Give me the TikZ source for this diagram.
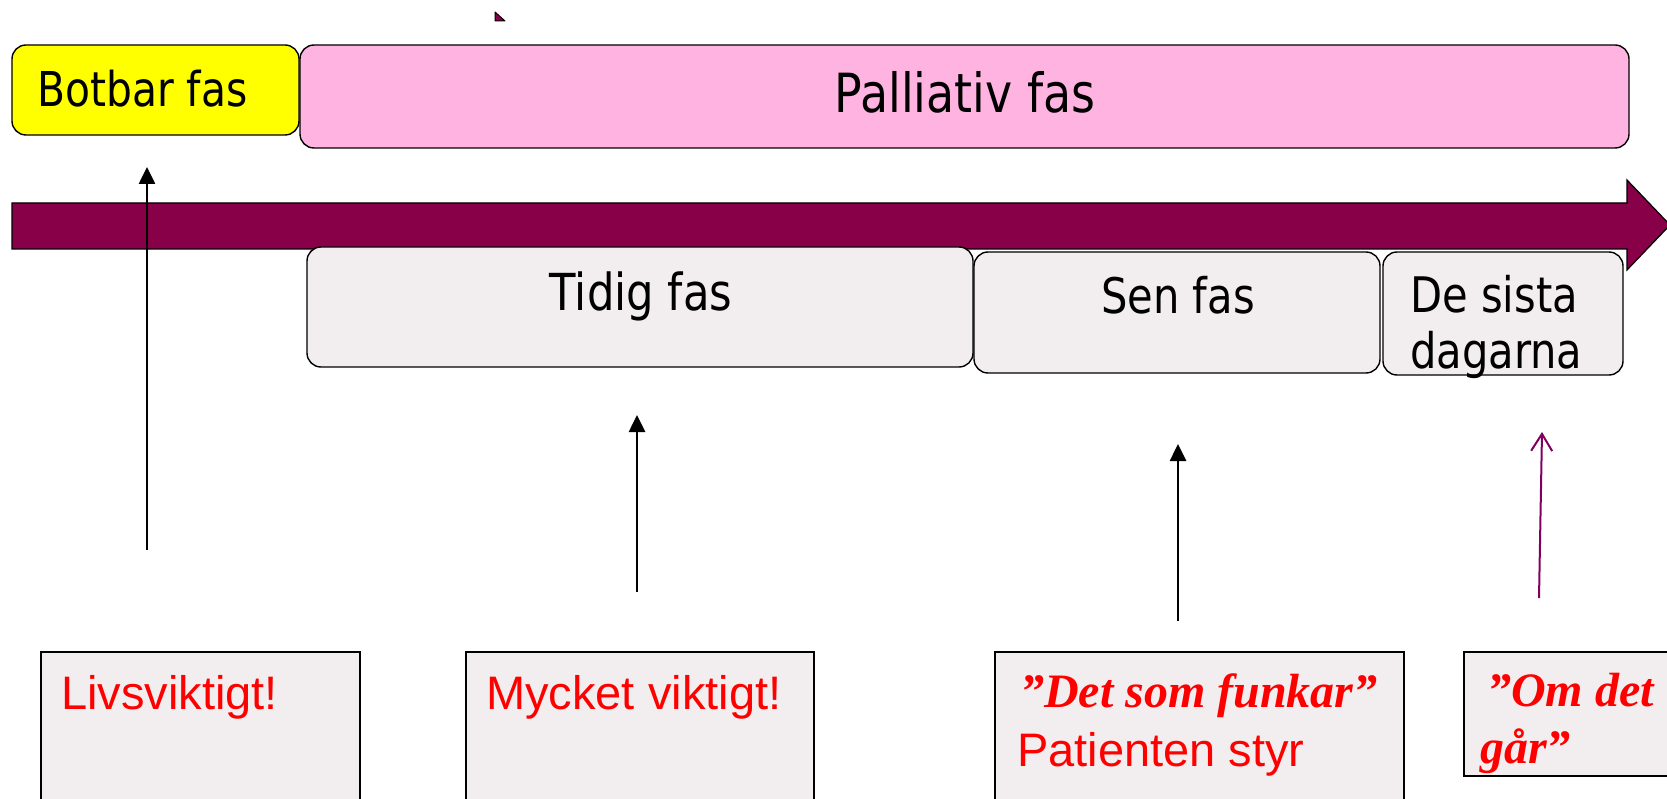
\documentclass[tikz,border=0pt]{standalone}
\usepackage{fontspec}
\setmainfont{Liberation Sans}
\newfontfamily\tahfam{DejaVu Sans}[FakeStretch=0.85]
\newfontfamily\tmsfam{Liberation Serif}
\usetikzlibrary{arrows.meta}
\definecolor{plum}{HTML}{880048}
\definecolor{thinplum}{HTML}{800060}
\definecolor{pinkfill}{HTML}{FFB3E1}
\definecolor{notefill}{HTML}{F2EEF0}
\definecolor{yel}{HTML}{FFFF00}
\tikzset{
  phasebox/.style={draw=black, line width=1.4pt, rounded corners=14pt, inner sep=0pt},
  notebox/.style={draw=black, line width=1.6pt, fill=notefill, anchor=north west, inner sep=0pt},
  toplbl/.style={inner sep=0pt, font=\tahfam\fontsize{#1}{55}\selectfont, text=black},
  toplbl/.default=48,
  redlbl/.style={inner sep=0pt, anchor=base west, font=\fontsize{47}{55}\selectfont, text=red},
  redital/.style={inner sep=0pt, anchor=base west, font=\tmsfam\bfseries\itshape\fontsize{48}{55}\selectfont, text=red},
  blkarrow/.style={draw=black, line width=2.6pt, -{Triangle[length=17pt,width=16pt]}},
  plumarrow/.style={draw=thinplum, line width=2pt, -{Straight Barb[length=17pt,width=21pt,line width=2pt]}},
}
\begin{document}
\begin{tikzpicture}[x=1pt,y=-1pt]
\useasboundingbox (0,0) rectangle (1667,799);
\begin{scope}
\clip (0,0) rectangle (1667,799);

% small triangle mark
\draw[fill=plum, line width=1pt, line join=round] (495,12) -- (495,21) -- (505,21) -- cycle;

% big time arrow
\draw[fill=plum, line width=1.2pt] (12,203) -- (1627,203) -- (1627,180) -- (1670,225) -- (1627,270) -- (1627,249) -- (12,249) -- cycle;

% top phase boxes
\node[phasebox, fill=yel, minimum width=287pt, minimum height=90pt] (botbar) at (155.5,90) {};
\node[phasebox, fill=pinkfill, minimum width=1329pt, minimum height=103pt] (palliativ) at (964.5,96.5) {};

% sub-phase boxes
\node[phasebox, fill=notefill, minimum width=666pt, minimum height=120pt] (tidig) at (640,307) {};
\node[phasebox, fill=notefill, minimum width=406pt, minimum height=121pt] (sen) at (1177,312.5) {};
\node[phasebox, fill=notefill, minimum width=240pt, minimum height=123pt] (sista) at (1503,313.5) {};

% labels
\node[toplbl=48, anchor=base west] (tbotbar) at (37,107) {Botbar fas};
\node[toplbl=54, anchor=base] (tpall) at (965,113) {Palliativ fas};
\node[toplbl=51, anchor=base] (ttidig) at (641,311) {Tidig fas};
\node[toplbl=49, anchor=base] (tsen) at (1178,314) {Sen fas};
\node[toplbl=49, anchor=base west] (tsista1) at (1410,313) {De sista};
\node[toplbl=49, anchor=base west] (tsista2) at (1410,368) {dagarna};

% bottom note boxes
\node[notebox, minimum width=319pt, minimum height=180pt] (n1) at (40,651) {};
\node[notebox, minimum width=348pt, minimum height=180pt] (n2) at (465,651) {};
\node[notebox, minimum width=409pt, minimum height=180pt] (n3) at (994,651) {};
\node[notebox, minimum width=230pt, minimum height=124pt] (n4) at (1463,651) {};

\node[redlbl] (l1) at (61,709) {Livsviktigt!};
\node[redlbl] (l2) at (486,709) {Mycket viktigt!};
\node[redital] (l3a) at (1020,707) {”Det som funkar”};
\node[redlbl] (l3b) at (1017,766) {Patienten styr};
\node[redital] (l4a) at (1487,706) {”Om det};
\node[redital] (l4b) at (1480,763) {går”};

% vertical arrows
\coordinate (a1s) at (147,550); \coordinate (a1e) at (147,167);
\coordinate (a2s) at (637,592); \coordinate (a2e) at (637,415);
\coordinate (a3s) at (1178,621); \coordinate (a3e) at (1178,444);
\coordinate (a4s) at (1539,598); \coordinate (a4e) at (1542,432);
\draw[blkarrow] (a1s) -- (a1e);
\draw[blkarrow] (a2s) -- (a2e);
\draw[blkarrow] (a3s) -- (a3e);
\draw[plumarrow] (a4s) -- (a4e);
\end{scope}
\end{tikzpicture}
\end{document}
